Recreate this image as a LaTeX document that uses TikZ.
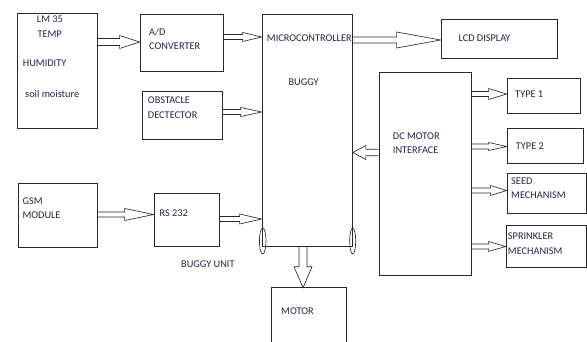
\documentclass[tikz,border=0pt]{standalone}
\usepackage{fontspec}
\setmainfont{Carlito}
\usetikzlibrary{calc,fit}
\definecolor{txtcol}{RGB}{35,35,70}
\definecolor{linecol}{RGB}{40,40,40}
\newcommand{\lblfont}{\fontsize{8.8}{10}\selectfont}
\tikzset{
  blk/.style={draw=linecol, line width=0.6pt, inner sep=0pt},
  lbl/.style={text=txtcol, font=\lblfont, inner sep=0pt, anchor=base west},
  % hollow block arrow: shaft half width, head half width, head length (px)
  barrow/.style n args={3}{draw=linecol, line width=0.55pt, to path={
    ($(\tikztostart)!#1*0.8536pt!90:(\tikztotarget)$)
    -- ($($(\tikztotarget)!#3*0.8536pt!(\tikztostart)$)!#1*0.8536pt!90:(\tikztotarget)$)
    -- ($($(\tikztotarget)!#3*0.8536pt!(\tikztostart)$)!#2*0.8536pt!90:(\tikztotarget)$)
    -- (\tikztotarget)
    -- ($($(\tikztotarget)!#3*0.8536pt!(\tikztostart)$)!#2*0.8536pt!-90:(\tikztotarget)$)
    -- ($($(\tikztotarget)!#3*0.8536pt!(\tikztostart)$)!#1*0.8536pt!-90:(\tikztotarget)$)
    -- ($(\tikztostart)!#1*0.8536pt!-90:(\tikztotarget)$)
  }},
}
\begin{document}
\begin{tikzpicture}[x=0.03cm,y=-0.03cm]
  \useasboundingbox (0,0) rectangle (587,342);
  % sensor side
  \node[blk, fit={(17,13) (97,128)}] (sens) {};
  \node[lbl] (lm) at (36.7,23) {LM 35};
  \node[lbl] (temp) at (37.3,38) {TEMP};
  \node[lbl] (hum) at (22.7,66.5) {HUMIDITY};
  \node[lbl] (soil) at (25,97.5) {soil moisture};
  \node[blk, fit={(140,14) (223,71)}] (ad) {};
  \node[lbl] (adA) at (149,36) {A/D};
  \node[lbl] (adB) at (149,50) {CONVERTER};
  \node[blk, fit={(142,91) (222,139)}] (obs) {};
  \node[lbl] (obsA) at (147.7,104) {OBSTACLE};
  \node[lbl] (obsB) at (147.7,119) {DECTECTOR};
  % gsm side
  \node[blk, fit={(18,183) (97,247)}] (gsm) {};
  \node[lbl] (gsmA) at (22.3,204.3) {GSM};
  \node[lbl] (gsmB) at (22.3,218.3) {MODULE};
  \node[blk, fit={(154,193) (219,246)}] (rs) {};
  \node[lbl] (rsA) at (159.3,216.7) {RS 232};
  \node[lbl] (unit) at (181,267.7) {BUGGY UNIT};
  % microcontroller (buggy) with wheels
  \node[blk, fit={(262,14) (352.5,246.7)}] (mc) {};
  \node[lbl] (mcA) at (266.7,41.7) {MICROCONTROLLER};
  \node[lbl] (mcB) at (288.3,86) {BUGGY};
  \draw[linecol, line width=0.55pt] (262.7,241) ellipse [x radius=3.3, y radius=13];
  \draw[linecol, line width=0.55pt] (352.7,241) ellipse [x radius=3, y radius=13];
  % motor (runs off the bottom edge)
  \node[inner sep=0pt, fit={(272,288) (346,342)}] (motor) {};
  \draw[linecol, line width=0.6pt] (motor.south west) |- (motor.north east) -- (motor.south east);
  \node[lbl] (motA) at (281,314) {MOTOR};
  % display and motor driver
  \node[blk, fit={(441,19) (557,58)}] (lcd) {};
  \node[lbl] (lcdA) at (458.3,41.7) {LCD DISPLAY};
  \node[blk, fit={(379,72) (471,275)}] (dc) {};
  \node[lbl] (dcA) at (392.7,139.3) {DC MOTOR};
  \node[lbl] (dcB) at (392.7,154) {INTERFACE};
  \node[blk, fit={(507,78) (580,113)}] (ty1) {};
  \node[lbl] (ty1A) at (515,97.3) {TYPE 1};
  \node[blk, fit={(507,128) (583,163)}] (ty2) {};
  \node[lbl] (ty2A) at (515.7,150) {TYPE 2};
  \node[blk, fit={(507,173) (586,213)}] (seed) {};
  \node[lbl] (seedA) at (511,184) {SEED};
  \node[lbl] (seedB) at (511,198.3) {MECHANISM};
  \node[blk, fit={(506,225) (586.6,267)}] (spr) {};
  \node[lbl] (sprA) at (507.7,239.3) {SPRINKLER};
  \node[lbl] (sprB) at (507.7,254) {MECHANISM};
  % block arrows
  \draw[barrow={3.5}{6.5}{20}] (sens.east |- 0,42) to (ad.west |- 0,42);
  \draw[barrow={2.5}{4.5}{19}] (ad.east |- 0,37) to (mc.west |- 0,37);
  \draw[barrow={2.5}{4.5}{21}] (obs.east |- 0,112) to (mc.west |- 0,112);
  \draw[barrow={3}{8}{44}] (mc.east |- 0,40) to (lcd.west |- 0,40);
  \draw[barrow={2.5}{5.5}{18}] (dc.east |- 0,94) to (ty1.west |- 0,94);
  \draw[barrow={2.5}{4}{18}] (dc.east |- 0,146.5) to (ty2.west |- 0,146.5);
  \draw[barrow={3.3}{7}{13}] (dc.west |- 0,152.5) to (mc.east |- 0,152.5);
  \draw[barrow={2.5}{5}{16}] (dc.east |- 0,190.5) to (seed.west |- 0,190.5);
  \draw[barrow={2.5}{5}{17}] (dc.east |- 0,246.5) to (spr.west |- 0,246.5);
  \draw[barrow={2.5}{6}{29}] (gsm.east |- 0,214.5) to (rs.west |- 0,214.5);
  \draw[barrow={2.5}{5}{22}] (rs.east |- 0,219) to (mc.west |- 0,219);
  \draw[barrow={4}{9}{21}] (mc.south -| 303,0) to (motor.north -| 303,0);
\end{tikzpicture}
\end{document}
